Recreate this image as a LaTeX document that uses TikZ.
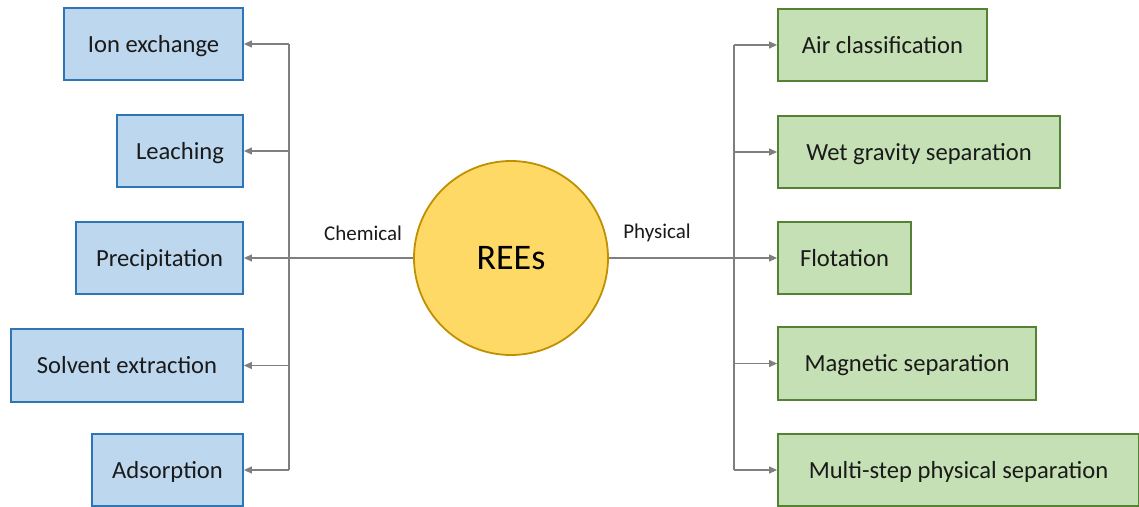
\documentclass[tikz,border=0pt]{standalone}
\usepackage{fontspec}
\setmainfont{Carlito}
\usetikzlibrary{arrows.meta}
\definecolor{bluefill}{HTML}{BDD7EE}
\definecolor{blueline}{HTML}{2E75B6}
\definecolor{greenfill}{HTML}{C5E0B4}
\definecolor{greenline}{HTML}{548235}
\definecolor{circfill}{HTML}{FFD966}
\definecolor{circline}{HTML}{BF9000}
\definecolor{conngray}{HTML}{7F7F7F}
\definecolor{txt}{HTML}{1A1A1A}
\tikzset{
  boxbase/.style={line width=1.8pt, inner sep=0pt, minimum height=72pt, text=txt,
    text height=20pt, text depth=3.6pt, font=\fontsize{24.6}{28}\selectfont},
  chembox/.style={boxbase, draw=blueline, fill=bluefill},
  physbox/.style={boxbase, draw=greenline, fill=greenfill},
  hub/.style={circle, draw=circline, fill=circfill, line width=1.8pt, inner sep=0pt,
    minimum size=194pt, text=black, font=\fontsize{36}{40}\selectfont},
  lbl/.style={text=txt, inner sep=0pt, font=\fontsize{21}{24}\selectfont},
  bus/.style={draw=conngray, line width=1.1pt},
  arr/.style={draw=conngray, line width=1.1pt, -{Triangle[length=8pt,width=7pt]}}
}
\begin{document}
\begin{tikzpicture}[x=1pt,y=-1pt]
\useasboundingbox (0,0) rectangle (1139,506);
% hub
\node[hub] (rees) at (511,258) {REEs};
% chemical side
\node[chembox, minimum width=179pt] (ion) at (153.5,44) {Ion exchange};
\node[chembox, minimum width=126pt] (leach) at (180,151) {Leaching};
\node[chembox, minimum width=167pt] (prec) at (159.5,258) {Precipitation};
\node[chembox, minimum width=232pt, minimum height=73pt] (solv) at (127,365.5) {Solvent extraction};
\node[chembox, minimum width=151pt] (ads) at (167.5,470) {Adsorption};
% physical side
\node[physbox, minimum width=209pt] (air) at (882.5,45) {Air classification};
\node[physbox, minimum width=282pt] (wet) at (919,152) {Wet gravity separation};
\node[physbox, minimum width=133pt] (flot) at (844.5,258) {Flotation};
\node[physbox, minimum width=258pt, minimum height=73pt] (mag) at (907,363.5) {Magnetic separation};
\node[physbox, minimum width=361pt] (multi) at (958.5,470) {Multi-step physical separation};
% labels
\node[lbl] (chem) at (363,233) {Chemical};
\node[lbl] (phys) at (657,233) {Physical};
% buses
\coordinate (busL) at (289,0);
\coordinate (busR) at (734,0);
\draw[bus] (busL |- ion.east) -- (busL |- ads.east);
\draw[bus] (busR |- air.west) -- (busR |- multi.west);
% chemical arrows
\draw[arr] (busL |- ion.east) -- (ion.east);
\draw[arr] (busL |- leach.east) -- (leach.east);
\draw[arr] (rees.west) -- (prec.east);
\draw[arr] (busL |- solv.east) -- (solv.east);
\draw[arr] (busL |- ads.east) -- (ads.east);
% physical arrows
\draw[arr] (busR |- air.west) -- (air.west);
\draw[arr] (busR |- wet.west) -- (wet.west);
\draw[arr] (rees.east) -- (flot.west);
\draw[arr] (busR |- mag.west) -- (mag.west);
\draw[arr] (busR |- multi.west) -- (multi.west);
\end{tikzpicture}
\end{document}
